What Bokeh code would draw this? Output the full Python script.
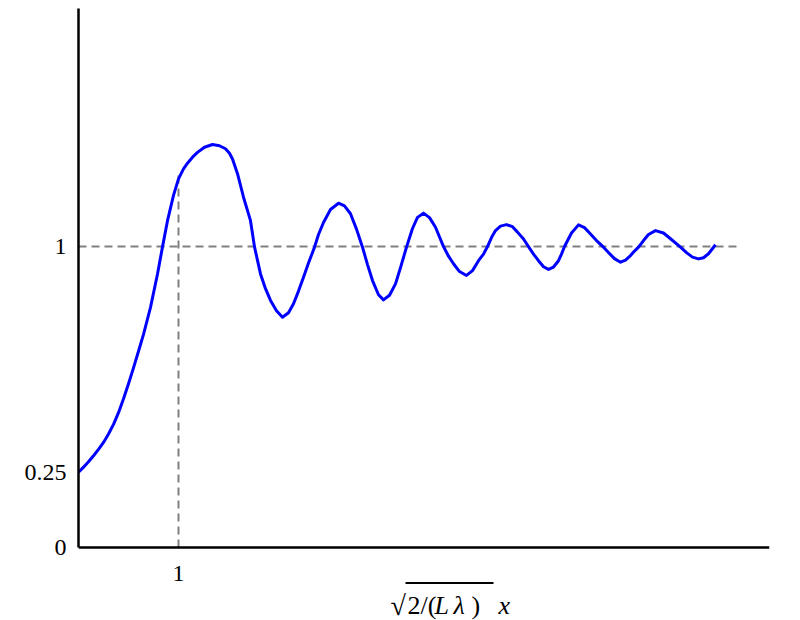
from bokeh.plotting import figure
from bokeh.models import Range1d, FixedTicker, Label, BoxAnnotation, Span
from bokeh.embed import file_html
from bokeh.resources import INLINE

# curve
xs = [0.00, 0.05, 0.10, 0.15, 0.20, 0.25, 0.30, 0.35, 0.40, 0.45, 0.50, 0.55,
      0.60, 0.65, 0.72, 0.79, 0.84, 0.89, 0.95, 1.00, 1.05, 1.09, 1.14, 1.19,
      1.26, 1.34, 1.41, 1.47, 1.51, 1.54, 1.59, 1.65, 1.72, 1.76, 1.82, 1.87,
      1.92, 1.98, 2.04, 2.10, 2.15, 2.20, 2.25, 2.30, 2.36, 2.40, 2.45, 2.52,
      2.60, 2.66, 2.72, 2.78, 2.84, 2.89, 2.94, 3.00, 3.05, 3.11, 3.17, 3.22,
      3.28, 3.34, 3.39, 3.45, 3.51, 3.57, 3.65, 3.70, 3.75, 3.81, 3.88, 3.94,
      4.00, 4.05, 4.09, 4.13, 4.17, 4.22, 4.28, 4.34, 4.39, 4.45, 4.50, 4.55,
      4.60, 4.65, 4.70, 4.75, 4.80, 4.83, 4.86, 4.93, 5.00, 5.06, 5.12, 5.18,
      5.25, 5.30, 5.36, 5.42, 5.47, 5.52, 5.56, 5.60, 5.65, 5.70, 5.77, 5.85,
      5.92, 6.02, 6.08, 6.14, 6.20, 6.25, 6.30, 6.37]
ys = [0.250, 0.267, 0.285, 0.305, 0.326, 0.349, 0.377, 0.409, 0.448, 0.494, 0.544, 0.597,
      0.652, 0.708, 0.798, 0.909, 0.999, 1.086, 1.170, 1.225, 1.258, 1.277, 1.297, 1.313,
      1.330, 1.339, 1.335, 1.325, 1.310, 1.291, 1.242, 1.164, 1.086, 0.999, 0.909, 0.860,
      0.821, 0.787, 0.765, 0.780, 0.810, 0.852, 0.898, 0.945, 0.998, 1.040, 1.080, 1.123,
      1.144, 1.135, 1.109, 1.058, 0.998, 0.940, 0.887, 0.840, 0.823, 0.838, 0.876, 0.930,
      0.998, 1.060, 1.097, 1.111, 1.096, 1.064, 1.000, 0.968, 0.943, 0.917, 0.904, 0.920,
      0.953, 0.975, 1.000, 1.030, 1.053, 1.068, 1.073, 1.066, 1.048, 1.025, 1.000, 0.975,
      0.953, 0.933, 0.924, 0.932, 0.953, 0.975, 1.000, 1.045, 1.072, 1.063, 1.042, 1.020,
      0.998, 0.980, 0.960, 0.948, 0.955, 0.970, 0.985, 0.998, 1.020, 1.040, 1.053, 1.045,
      1.026, 0.998, 0.980, 0.965, 0.959, 0.963, 0.976, 1.006]

# reference (dashed) lines
ref_h_x = [0.0, 6.60]
ref_h_y = [1.0, 1.0]
ref_v_x = [1.0, 1.0]
ref_v_y = [0.0, 1.25]

x_ticks = [1]
x_tick_labels = ["1"]
y_ticks = [0, 0.25, 1]
x_max = 6.91
y_max = 1.791
y_min = -0.2425   # room below the x axis for its labels

p = figure(width=792, height=620, output_backend="svg", toolbar_location=None,
           x_range=Range1d(0, x_max), y_range=Range1d(y_min, y_max),
           min_border_left=78, min_border_right=23, min_border_top=8, min_border_bottom=0)
p.outline_line_color = None
p.grid.visible = False
p.background_fill_color = "white"
p.border_fill_color = "white"
p.xaxis.visible = False

p.line(ref_h_x, ref_h_y, line_color="#808080", line_width=2, line_dash="8 5")
p.line(ref_v_x, ref_v_y, line_color="#808080", line_width=2, line_dash="8 5")
p.line(xs, ys, line_color="#0000FF", line_width=3, line_join="round")

# x axis line at y = 0
p.add_layout(Span(location=0, dimension="width", line_color="black", line_width=2.5))

ax = p.yaxis[0]
ax.bounds = (0, y_max)
ax.axis_line_color = "black"
ax.axis_line_width = 2.5
ax.major_tick_line_color = None
ax.minor_tick_line_color = None
ax.major_tick_in = 0
ax.major_tick_out = 0
ax.major_label_text_font = "Liberation Serif"
ax.major_label_text_font_size = "24px"
ax.major_label_text_color = "black"
ax.ticker = FixedTicker(ticks=y_ticks)
ax.major_label_overrides = {0: "0", 0.25: "0.25", 1: "1"}
ax.major_label_standoff = 12

# x tick labels
for xt, lt in zip(x_ticks, x_tick_labels):
    p.add_layout(Label(x=xt, y=-0.0864, text=lt, text_font="Liberation Serif",
                       text_font_size="24px", text_color="black",
                       text_baseline="middle", text_align="center"))

# axis title  sqrt(2/(L lambda)) x  built from pieces
yb = -0.193
pieces = [("\u221a", 3.12, "normal", "28px"), ("2/(", 3.29, "normal", "26px"),
          ("L", 3.56, "italic", "26px"), ("\u03bb", 3.75, "italic", "26px"),
          (")", 3.93, "normal", "26px"), ("x", 4.20, "italic", "26px")]
for t, xp, st, fs in pieces:
    p.add_layout(Label(x=xp, y=yb, text=t, text_font="Liberation Serif",
                       text_font_size=fs, text_font_style=st, text_color="black",
                       text_baseline="alphabetic", text_align="left"))
p.add_layout(BoxAnnotation(left=3.27, right=4.15, bottom=-0.1213, top=-0.1146,
                           fill_color="black", fill_alpha=1, line_alpha=0))

open("out.html", "w").write(file_html(p, INLINE))
